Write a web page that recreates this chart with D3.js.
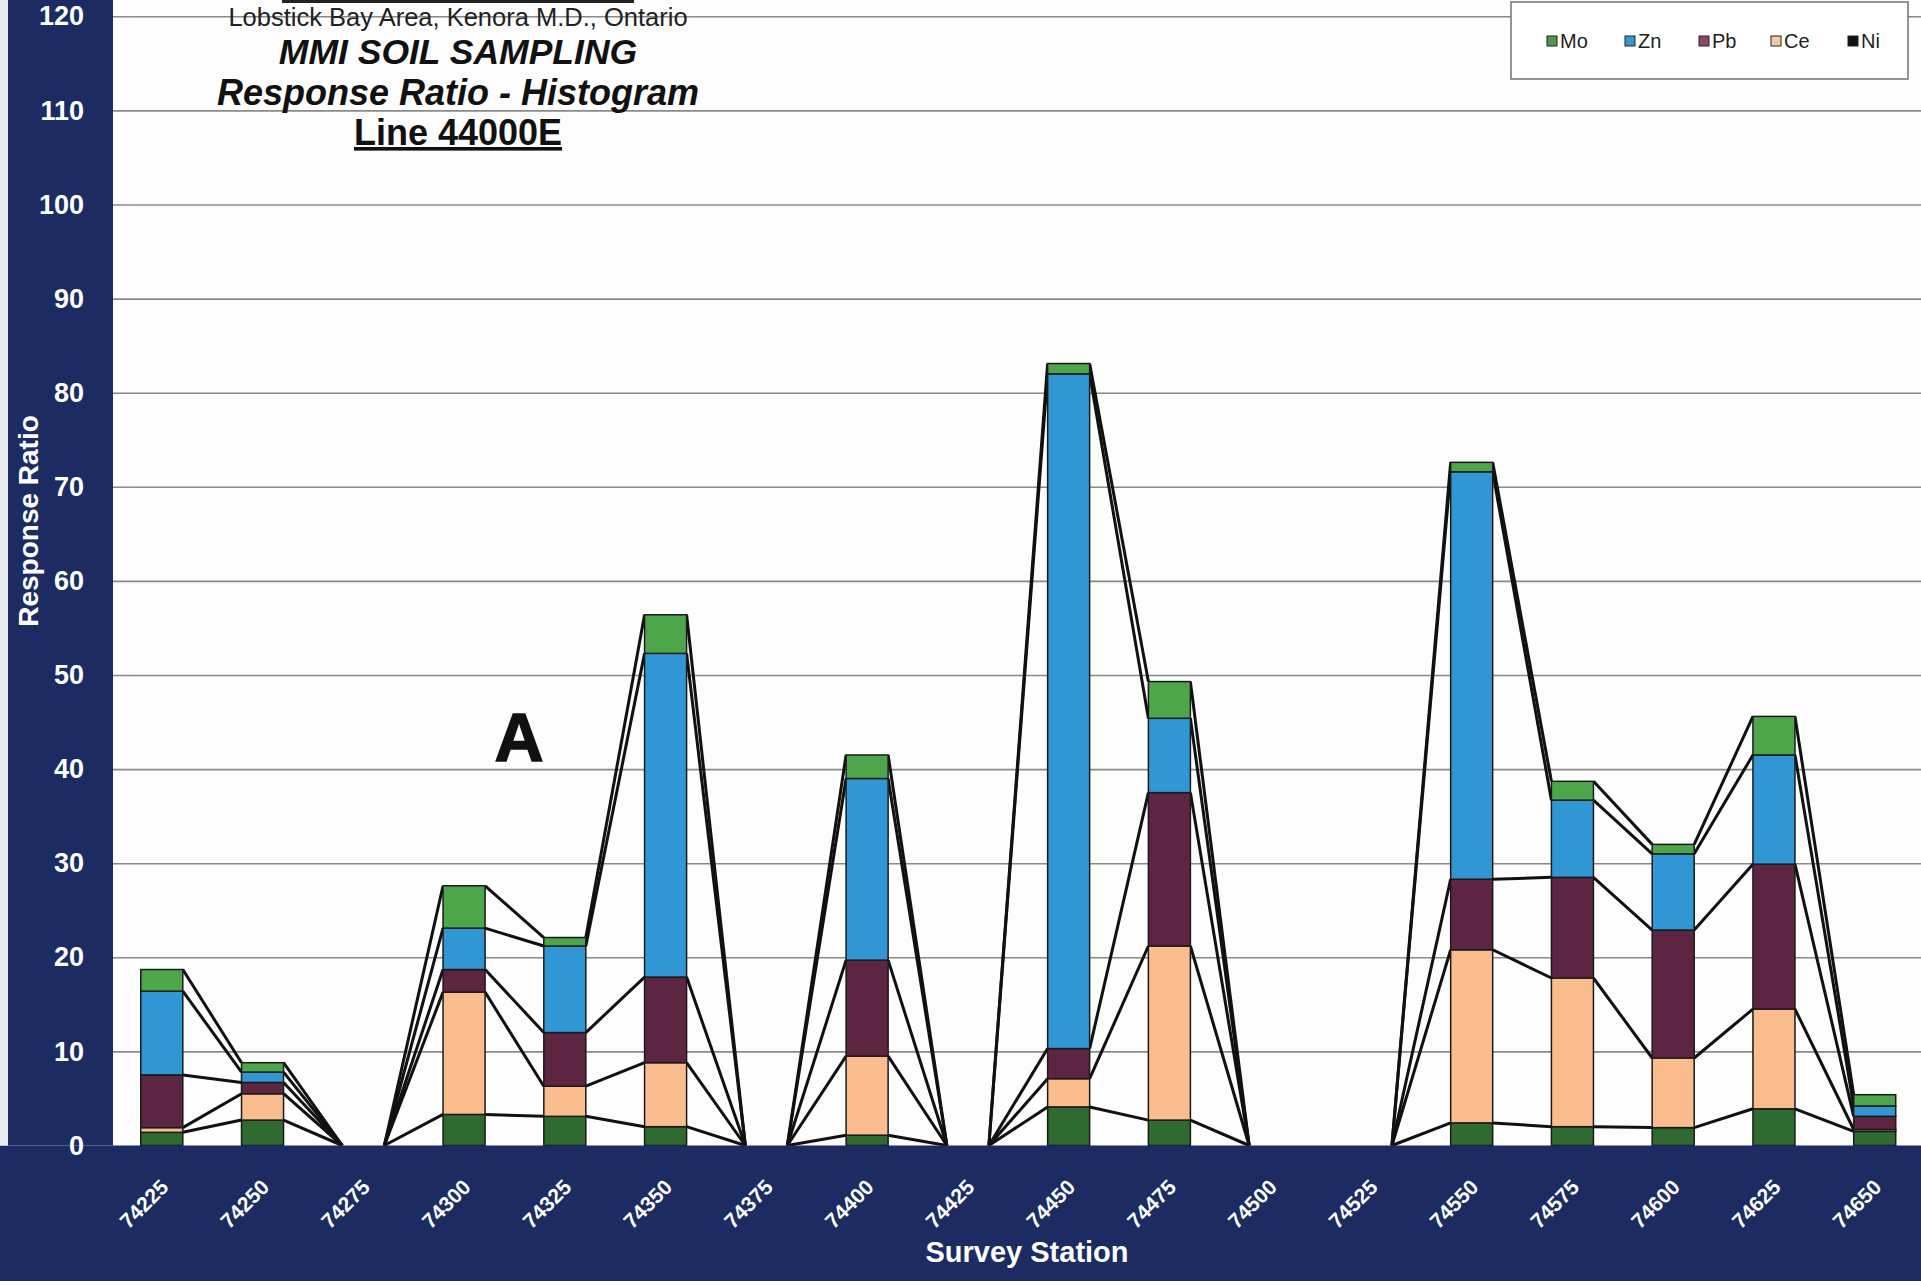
<!DOCTYPE html>
<html>
<head>
<meta charset="utf-8">
<script src="https://cdn.jsdelivr.net/npm/d3@7"></script>
<style>
  html, body { margin: 0; padding: 0; background: #ffffff; }
  svg { display: block; font-family: "Liberation Sans", Arial, sans-serif; }
</style>
</head>
<body>
<svg id="chart" width="1921" height="1285"></svg>
<script>
// ---------------- data ----------------
const stations = ["74225","74250","74275","74300","74325","74350","74375","74400","74425",
                  "74450","74475","74500","74525","74550","74575","74600","74625","74650"];
const Ni = [1.4, 2.7, 0, 3.3, 3.1, 2.0, 0, 1.1, 0, 4.1, 2.7, 0, 0, 2.4, 2.0, 1.9, 3.9, 1.5];
const Ce = [0.5, 2.8, 0, 13.0, 3.2, 6.8, 0, 8.4, 0, 3.0, 18.5, 0, 0, 18.4, 15.8, 7.4, 10.6, 0.2];
const Pb = [5.6, 1.2, 0, 2.4, 5.7, 9.1, 0, 10.2, 0, 3.2, 16.3, 0, 0, 7.5, 10.7, 13.6, 15.4, 1.4];
const Zn = [8.9, 1.1, 0, 4.4, 9.2, 34.4, 0, 19.3, 0, 71.7, 7.9, 0, 0, 43.3, 8.2, 8.1, 11.6, 1.1];
const Mo = [2.3, 1.0, 0, 4.5, 0.9, 4.1, 0, 2.5, 0, 1.1, 3.9, 0, 0, 1.0, 2.0, 1.0, 4.1, 1.2];
const stackKeys = ["Ni", "Ce", "Pb", "Zn", "Mo"];          // bottom -> top
const legendKeys = ["Mo", "Zn", "Pb", "Ce", "Ni"];
const yTicks = [0, 10, 20, 30, 40, 50, 60, 70, 80, 90, 100, 110, 120];

const titleLines = ["Lobstick Bay Area, Kenora M.D., Ontario", "MMI SOIL SAMPLING",
                    "Response Ratio - Histogram", "Line 44000E"];

// ---------------- styles ----------------
const fillColor = { Ni: "#2f6a31", Ce: "#fbbd8d", Pb: "#5c2642", Zn: "#3097d4", Mo: "#4ea64a" };
const legendColor = { Mo: "#4c9a4a", Zn: "#3a96d2", Pb: "#8a4a66", Ce: "#f6c9a4", Ni: "#111111" };
const navy = "#1c2b62";

const table = stations.map((s, i) => ({ station: s, Ni: Ni[i], Ce: Ce[i], Pb: Pb[i], Zn: Zn[i], Mo: Mo[i] }));
const stacked = d3.stack().keys(stackKeys)(table);

const svg = d3.select("#chart");
const W = 1921, H = 1285;
const plotLeft = 113, baseY = 1145.5;

const x = d3.scaleBand().domain(stations).range([111.4, 1925.1]).paddingInner(0.583).paddingOuter(0.2915);
const y = d3.scaleLinear().domain([0, 120]).range([baseY, 16.3]);

// background
svg.append("rect").attr("x", 0).attr("y", 0).attr("width", W).attr("height", H).attr("fill", "#ffffff");
svg.append("rect").attr("x", plotLeft).attr("y", 0).attr("width", W - plotLeft).attr("height", baseY)
   .attr("fill", "#fdfdfd");

// gridlines
const grid = svg.append("g").attr("transform", `translate(${plotLeft},0)`)
  .call(d3.axisLeft(y).tickValues(yTicks.filter(v => v > 0)).tickSize(-(W - plotLeft)).tickFormat(""));
grid.select(".domain").remove();
grid.selectAll("line").attr("stroke", "#8a8a8a").attr("stroke-width", 1.6);

// title box edge (cut off at top)
svg.append("line").attr("x1", 282).attr("x2", 634).attr("y1", 1.5).attr("y2", 1.5)
   .attr("stroke", "#222").attr("stroke-width", 3);

// title
const tx = 458;
svg.append("text").attr("x", tx).attr("y", 26).attr("text-anchor", "middle")
   .attr("font-size", 25.5).attr("fill", "#222").text(titleLines[0]);
svg.append("text").attr("x", tx).attr("y", 64).attr("text-anchor", "middle")
   .attr("font-size", 35.5).attr("font-weight", "bold").attr("font-style", "italic").attr("fill", "#111")
   .text(titleLines[1]);
svg.append("text").attr("x", tx).attr("y", 105).attr("text-anchor", "middle")
   .attr("font-size", 36).attr("font-weight", "bold").attr("font-style", "italic").attr("fill", "#111")
   .text(titleLines[2]);
svg.append("text").attr("x", tx).attr("y", 145).attr("text-anchor", "middle")
   .attr("font-size", 36).attr("font-weight", "bold").attr("fill", "#111")
   .attr("text-decoration", "underline").text(titleLines[3]);

// "A" marker
svg.append("text").attr("x", 519).attr("y", 761).attr("text-anchor", "middle")
   .attr("font-size", 68).attr("font-weight", "bold").attr("fill", "#111")
   .attr("stroke", "#111").attr("stroke-width", 1.5).text("A");

// series lines (connect top of each segment between adjacent bars)
const lines = svg.append("g");
stacked.forEach(layer => {
  for (let i = 0; i < stations.length - 1; i++) {
    const a = layer[i], b = layer[i + 1];
    if (a[1] === 0 && b[1] === 0) continue;
    lines.append("line")
      .attr("x1", x(stations[i]) + x.bandwidth())
      .attr("y1", y(a[1]))
      .attr("x2", x(stations[i + 1]))
      .attr("y2", y(b[1]))
      .attr("stroke", "#111111").attr("stroke-width", 3);
  }
});

// bars
const bars = svg.append("g");
stacked.forEach(layer => {
  bars.append("g").selectAll("rect").data(layer.filter(d => d[1] - d[0] > 0)).join("rect")
    .attr("x", d => x(d.data.station))
    .attr("width", x.bandwidth())
    .attr("y", d => y(d[1]))
    .attr("height", d => y(d[0]) - y(d[1]))
    .attr("fill", fillColor[layer.key])
    .attr("stroke", "#1a1a1a").attr("stroke-width", 1.5);
});

// navy frame bands
svg.append("rect").attr("x", 8).attr("y", 0).attr("width", plotLeft - 8).attr("height", baseY).attr("fill", navy);
svg.append("rect").attr("x", 0).attr("y", baseY).attr("width", W).attr("height", 1281 - baseY).attr("fill", navy);
svg.append("rect").attr("x", 0).attr("y", 0).attr("width", 8).attr("height", baseY).attr("fill", "#e9ebf0");

// y axis labels
const yAxis = svg.append("g").attr("transform", "translate(87,0)")
  .call(d3.axisLeft(y).tickValues(yTicks).tickSize(0).tickPadding(3));
yAxis.select(".domain").remove();
yAxis.selectAll("text").attr("fill", "#ffffff").attr("font-size", 27).attr("font-weight", "bold")
  .attr("font-family", "Liberation Sans, Arial, sans-serif");

// x axis labels
const xAxis = svg.append("g").attr("transform", `translate(0,${baseY})`)
  .call(d3.axisBottom(x).tickSize(0).tickPadding(0));
xAxis.select(".domain").remove();
xAxis.selectAll("text")
  .attr("fill", "#ffffff").attr("font-size", 21).attr("font-weight", "bold")
  .attr("font-family", "Liberation Sans, Arial, sans-serif")
  .attr("text-anchor", "end").attr("dy", null).attr("y", 0)
  .attr("transform", "translate(8,43) rotate(-45)");

// axis titles
svg.append("text").attr("x", 1027).attr("y", 1262).attr("text-anchor", "middle")
   .attr("font-size", 29).attr("font-weight", "bold").attr("fill", "#ffffff").text("Survey Station");
svg.append("text").attr("transform", "translate(38,521) rotate(-90)").attr("text-anchor", "middle")
   .attr("font-size", 28).attr("font-weight", "bold").attr("fill", "#ffffff").text("Response Ratio");

// legend
const lg = svg.append("g");
lg.append("rect").attr("x", 1511).attr("y", 2).attr("width", 397).attr("height", 77)
  .attr("fill", "#ffffff").attr("stroke", "#7a7a7a").attr("stroke-width", 1.6);
const legendX = [1547, 1625, 1699, 1771, 1848];
legendKeys.forEach((k, i) => {
  lg.append("rect").attr("x", legendX[i]).attr("y", 36).attr("width", 10).attr("height", 10)
    .attr("fill", legendColor[k]).attr("stroke", "#222").attr("stroke-width", 1);
  lg.append("text").attr("x", legendX[i] + 13).attr("y", 48).attr("font-size", 20)
    .attr("fill", "#222").text(k);
});
</script>
</body>
</html>
